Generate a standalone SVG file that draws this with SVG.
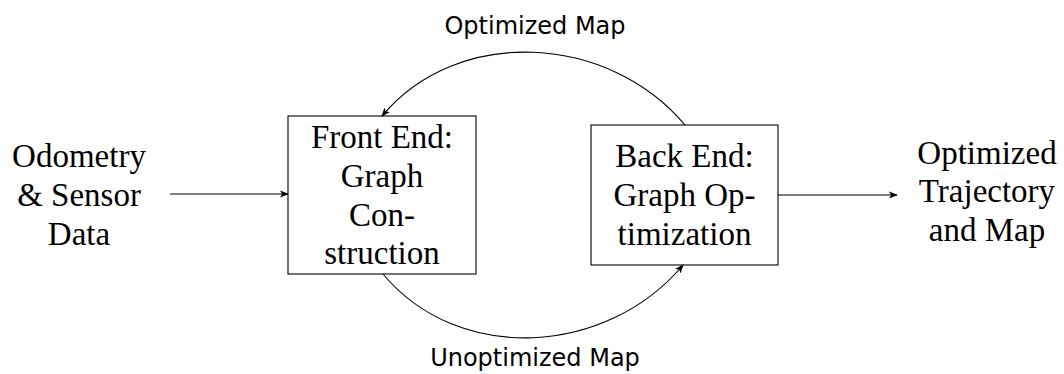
<svg xmlns="http://www.w3.org/2000/svg" width="1064" height="374" viewBox="0 0 1064 374">
  <style>
    .box { fill: #ffffff; stroke: #000000; stroke-width: 1.1; }
    .serif { font-family: "Liberation Serif", "Times New Roman", serif; font-size: 33px; fill: #000000; text-anchor: middle; }
    .sans { font-family: "DejaVu Sans", "Liberation Sans", sans-serif; font-size: 24px; fill: #000000; text-anchor: middle; }
    .edge { fill: none; stroke: #000000; stroke-width: 1.1; marker-end: url(#head); }
  </style>
  <defs>
    <marker id="head" viewBox="0 0 10 10" refX="9" refY="5" markerWidth="9" markerHeight="9" markerUnits="userSpaceOnUse" orient="auto">
      <path d="M0,1 L10,5 L0,9 L2.5,5 Z" fill="#000000"/>
    </marker>
  </defs>

  <g id="input">
    <text class="serif" x="79" y="167">Odometry</text>
    <text class="serif" x="79" y="206">&amp; Sensor</text>
    <text class="serif" x="79" y="245">Data</text>
  </g>

  <g id="front-end">
    <rect class="box" x="288" y="116" width="188" height="158"/>
    <text class="serif" x="382" y="148">Front End:</text>
    <text class="serif" x="382" y="187">Graph</text>
    <text class="serif" x="382" y="226">Con-</text>
    <text class="serif" x="382" y="264">struction</text>
  </g>

  <g id="back-end">
    <rect class="box" x="591" y="125" width="187" height="140"/>
    <text class="serif" x="684.5" y="167">Back End:</text>
    <text class="serif" x="684.5" y="206">Graph Op-</text>
    <text class="serif" x="684.5" y="245">timization</text>
  </g>

  <g id="output">
    <text class="serif" x="987" y="164">Optimized</text>
    <text class="serif" x="987" y="202">Trajectory</text>
    <text class="serif" x="987" y="241">and Map</text>
  </g>

  <g id="connectors">
    <path class="edge" d="M170,194 L288,194"/>
    <path class="edge" d="M778,195 L897,195"/>
    <path class="edge" d="M685,125 C609,34 458,25 382,116"/>
    <path class="edge" d="M383,274 C459,365 607,356 683,265"/>
    <text class="sans" x="535" y="34">Optimized Map</text>
    <text class="sans" x="535" y="366">Unoptimized Map</text>
  </g>
</svg>
